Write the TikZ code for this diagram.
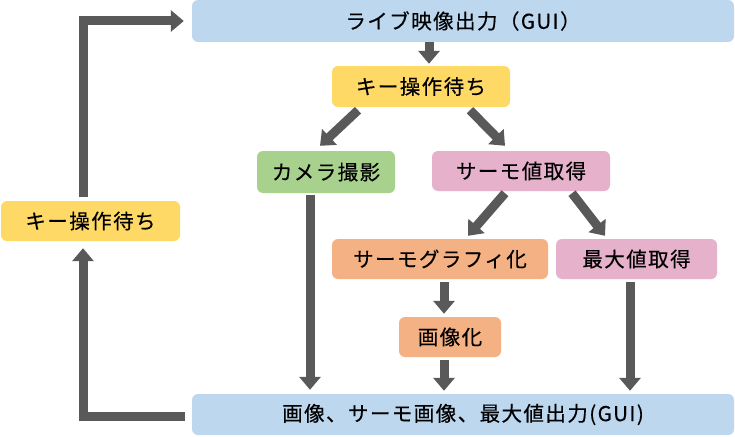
\documentclass[tikz,border=0pt]{standalone}
\usepackage{fontspec}
\setmainfont{Noto Sans CJK JP}[LetterSpace=7,FakeBold=0.3]
\usetikzlibrary{arrows.meta}
\definecolor{cblue}{HTML}{BDD7EE}
\definecolor{cyellow}{HTML}{FFD966}
\definecolor{cgreen}{HTML}{A9D18E}
\definecolor{cpink}{HTML}{E6B1CA}
\definecolor{corange}{HTML}{F4B183}
\definecolor{cgray}{HTML}{595959}
\tikzset{
  box/.style={rounded corners=6pt, inner sep=0pt, font=\fontsize{20.5}{24}\selectfont, text=black},
  arr/.style={draw=cgray, line width=9pt, line join=miter, -{Triangle[width=21pt,length=13pt]}}
}
\begin{document}
\begin{tikzpicture}[x=1pt,y=-1pt]
\useasboundingbox (0,0) rectangle (735,436);
\node[box, fill=cblue, minimum width=542pt, minimum height=42pt] (top) at (463,21) {ライブ映像出力（GUI）};
\node[box, fill=cyellow, minimum width=178pt, minimum height=41pt] (key1) at (421,86.5) {キー操作待ち};
\node[box, fill=cgreen, minimum width=138pt, minimum height=42pt] (cam) at (326,172) {カメラ撮影};
\node[box, fill=cpink, minimum width=178pt, minimum height=40pt] (thv) at (521,171) {サーモ値取得};
\node[box, fill=corange, minimum width=216pt, minimum height=40pt] (thg) at (440,259) {サーモグラフィ化};
\node[box, fill=cpink, minimum width=161pt, minimum height=40pt] (maxv) at (636.5,259) {最大値取得};
\node[box, fill=corange, minimum width=102pt, minimum height=40pt] (img) at (450,337) {画像化};
\node[box, fill=cblue, minimum width=542pt, minimum height=41pt] (bot) at (463,414.5) {画像、サーモ画像、最大値出力(GUI)};
\node[box, fill=cyellow, minimum width=179pt, minimum height=40pt] (key2) at (90.5,221) {キー操作待ち};

\draw[arr] ([xshift=-34pt]top.south) -- ([xshift=8pt,yshift=2pt]key1.north);
\draw[arr] ([xshift=-63pt,yshift=-3pt]key1.south) -- ([xshift=-6pt,yshift=5pt]cam.north);
\draw[arr] ([xshift=49pt,yshift=-3pt]key1.south) -- ([xshift=-16pt,yshift=5pt]thv.north);
\draw[arr] ([xshift=-16pt,yshift=-2pt]cam.south) -- ([xshift=-153pt,yshift=4pt]bot.north);
\draw[arr] ([xshift=-16pt,yshift=-2pt]thv.south) -- ([xshift=28pt,yshift=3pt]thg.north);
\draw[arr] ([xshift=51pt,yshift=-2pt]thv.south) -- ([xshift=-31.5pt,yshift=3pt]maxv.north);
\draw[arr] ([xshift=4pt,yshift=-3pt]thg.south) -- ([xshift=-6pt,yshift=3pt]img.north);
\draw[arr] ([xshift=-6pt,yshift=-3pt]img.south) -- ([xshift=-19pt,yshift=3pt]bot.north);
\draw[arr] ([xshift=-6.5pt,yshift=-3pt]maxv.south) -- ([xshift=167pt,yshift=3pt]bot.north);
\draw[arr] ([xshift=-7pt,yshift=-1.5pt]bot.west) -| ([xshift=-7.5pt,yshift=-7pt]key2.south);
\draw[arr] ([xshift=-7.5pt,yshift=4pt]key2.north) |- ([xshift=-8pt]top.west);
\end{tikzpicture}
\end{document}
